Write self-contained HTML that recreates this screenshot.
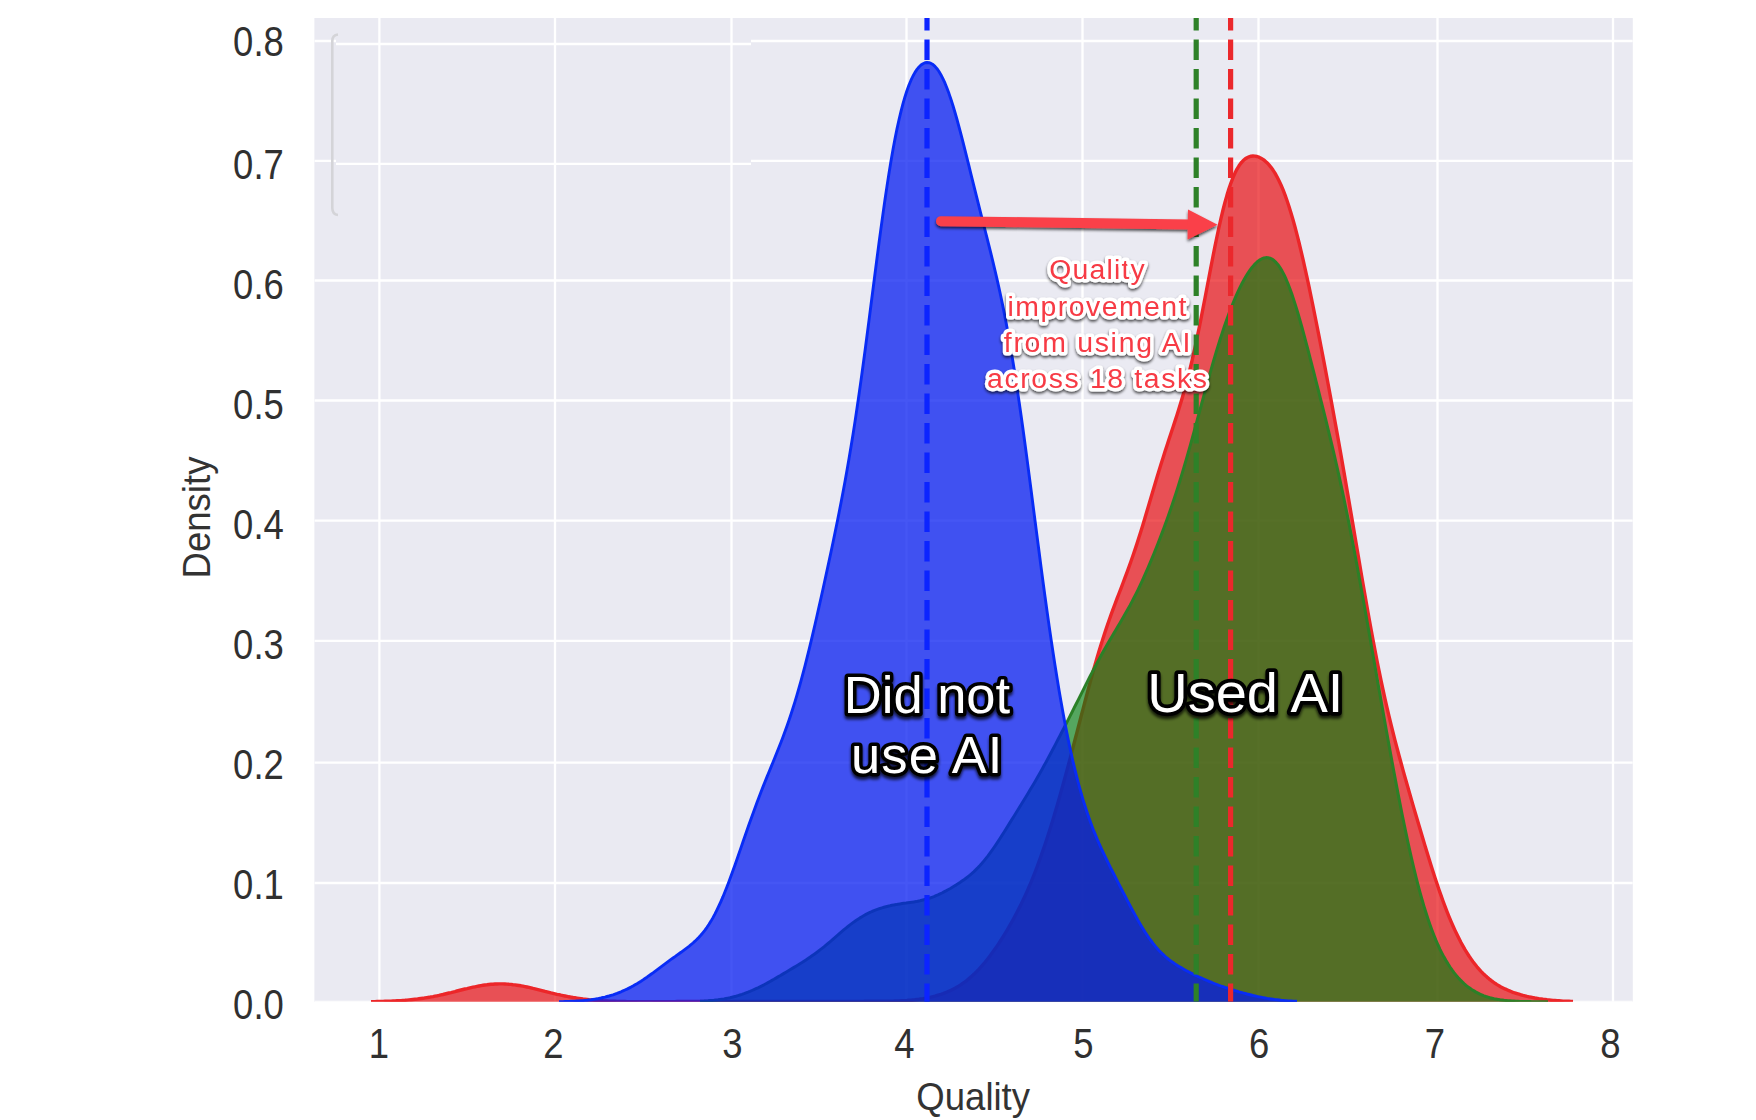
<!DOCTYPE html>
<html><head><meta charset="utf-8"><title>Quality density</title>
<style>
html,body{margin:0;padding:0;background:#fff;}
body{width:1756px;height:1120px;overflow:hidden;}
svg{display:block;}
text{font-family:"Liberation Sans",Arial,Helvetica,sans-serif;}
.tick{font-size:42.5px;fill:#303030;}
.axl{font-size:39.5px;fill:#333;}
.big{font-size:52.5px;fill:#fff;stroke:#000;stroke-width:7px;stroke-linejoin:round;paint-order:stroke fill;}
.ann{font-size:28.4px;fill:#F73A44;stroke:#fff;stroke-width:6.8px;stroke-linejoin:round;paint-order:stroke fill;}
</style></head><body>
<svg width="1756" height="1120" viewBox="0 0 1756 1120">
<defs>
<filter id="sh" x="-20%" y="-20%" width="140%" height="160%"><feGaussianBlur in="SourceAlpha" stdDeviation="1.8"/><feOffset dx="0" dy="2.5" result="o"/><feComponentTransfer><feFuncA type="linear" slope="0.75"/></feComponentTransfer><feMerge><feMergeNode/><feMergeNode in="SourceGraphic"/></feMerge></filter>
<filter id="sh2" x="-20%" y="-30%" width="140%" height="180%"><feGaussianBlur in="SourceAlpha" stdDeviation="1.7"/><feOffset dx="0" dy="2.2" result="o"/><feComponentTransfer><feFuncA type="linear" slope="0.7"/></feComponentTransfer><feMerge><feMergeNode/><feMergeNode in="SourceGraphic"/></feMerge></filter>
<clipPath id="cp"><rect x="314.4" y="18.0" width="1318.4" height="983.8"/></clipPath>
</defs>
<rect x="0" y="0" width="1756" height="1120" fill="#fff"/>
<rect x="314.4" y="18.0" width="1318.4" height="983.8" fill="#EAEAF2"/>
<g clip-path="url(#cp)">
<line x1="379.4" y1="18.0" x2="379.4" y2="1001.8" stroke="#fff" stroke-width="2.3"/>
<line x1="555.0" y1="18.0" x2="555.0" y2="1001.8" stroke="#fff" stroke-width="2.3"/>
<line x1="731.5" y1="18.0" x2="731.5" y2="1001.8" stroke="#fff" stroke-width="2.3"/>
<line x1="906.5" y1="18.0" x2="906.5" y2="1001.8" stroke="#fff" stroke-width="2.3"/>
<line x1="1082.5" y1="18.0" x2="1082.5" y2="1001.8" stroke="#fff" stroke-width="2.3"/>
<line x1="1258.5" y1="18.0" x2="1258.5" y2="1001.8" stroke="#fff" stroke-width="2.3"/>
<line x1="1437.5" y1="18.0" x2="1437.5" y2="1001.8" stroke="#fff" stroke-width="2.3"/>
<line x1="1613.0" y1="18.0" x2="1613.0" y2="1001.8" stroke="#fff" stroke-width="2.3"/>
<line x1="314.4" y1="41.0" x2="336" y2="41.0" stroke="#fff" stroke-width="2.3"/>
<line x1="336" y1="44.0" x2="751" y2="44.0" stroke="#fff" stroke-width="2.3"/>
<line x1="751" y1="41.0" x2="1632.8" y2="41.0" stroke="#fff" stroke-width="2.3"/>
<line x1="314.4" y1="160.9" x2="336" y2="160.9" stroke="#fff" stroke-width="2.3"/>
<line x1="336" y1="163.9" x2="751" y2="163.9" stroke="#fff" stroke-width="2.3"/>
<line x1="751" y1="160.9" x2="1632.8" y2="160.9" stroke="#fff" stroke-width="2.3"/>
<line x1="314.4" y1="280.5" x2="1632.8" y2="280.5" stroke="#fff" stroke-width="2.3"/>
<line x1="314.4" y1="400.5" x2="1632.8" y2="400.5" stroke="#fff" stroke-width="2.3"/>
<line x1="314.4" y1="520.7" x2="1632.8" y2="520.7" stroke="#fff" stroke-width="2.3"/>
<line x1="314.4" y1="640.8" x2="1632.8" y2="640.8" stroke="#fff" stroke-width="2.3"/>
<line x1="314.4" y1="762.6" x2="1632.8" y2="762.6" stroke="#fff" stroke-width="2.3"/>
<line x1="314.4" y1="883.0" x2="1632.8" y2="883.0" stroke="#fff" stroke-width="2.3"/>
<line x1="314.4" y1="1001.8" x2="1632.8" y2="1001.8" stroke="#fff" stroke-width="2.3"/>
<path d="M338,34.5 Q332.3,35 332.3,41 L332.3,208 Q332.3,214.5 338,215" fill="none" stroke="#d4d4d8" stroke-width="2.6"/>
<path d="M371.0,1001.6 L373.0,1001.6 L375.0,1001.6 L377.0,1001.5 L379.0,1001.5 L381.0,1001.4 L383.0,1001.4 L385.0,1001.3 L387.0,1001.3 L389.0,1001.2 L391.0,1001.1 L393.0,1001.0 L395.0,1000.9 L397.0,1000.8 L399.0,1000.7 L401.0,1000.6 L403.0,1000.4 L405.0,1000.3 L407.0,1000.1 L409.0,999.9 L411.0,999.7 L413.0,999.5 L415.0,999.3 L417.0,999.1 L419.0,998.8 L421.0,998.5 L423.0,998.3 L425.0,997.9 L427.0,997.6 L429.0,997.3 L431.0,996.9 L433.0,996.6 L435.0,996.2 L437.0,995.8 L439.0,995.4 L441.0,994.9 L443.0,994.5 L445.0,994.0 L447.0,993.5 L449.0,993.0 L451.0,992.6 L453.0,992.1 L455.0,991.6 L457.0,991.0 L459.0,990.5 L461.0,990.0 L463.0,989.5 L465.0,989.0 L467.0,988.6 L469.0,988.1 L471.0,987.6 L473.0,987.2 L475.0,986.8 L477.0,986.4 L479.0,986.0 L481.0,985.6 L483.0,985.3 L485.0,985.0 L487.0,984.8 L489.0,984.5 L491.0,984.3 L493.0,984.2 L495.0,984.0 L497.0,984.0 L499.0,983.9 L501.0,983.9 L503.0,983.9 L505.0,984.0 L507.0,984.1 L509.0,984.3 L511.0,984.4 L513.0,984.7 L515.0,984.9 L517.0,985.2 L519.0,985.5 L521.0,985.8 L523.0,986.2 L525.0,986.6 L527.0,987.0 L529.0,987.4 L531.0,987.9 L533.0,988.4 L535.0,988.8 L537.0,989.3 L539.0,989.8 L541.0,990.3 L543.0,990.8 L545.0,991.4 L547.0,991.9 L549.0,992.4 L551.0,992.9 L553.0,993.3 L555.0,993.8 L557.0,994.3 L559.0,994.7 L561.0,995.2 L563.0,995.6 L565.0,996.0 L567.0,996.4 L569.0,996.8 L571.0,997.1 L573.0,997.5 L575.0,997.8 L577.0,998.1 L579.0,998.4 L581.0,998.7 L583.0,999.0 L585.0,999.2 L587.0,999.4 L589.0,999.7 L591.0,999.9 L593.0,1000.0 L595.0,1000.2 L597.0,1000.4 L599.0,1000.5 L601.0,1000.6 L603.0,1000.8 L605.0,1000.9 L607.0,1001.0 L609.0,1001.1 L611.0,1001.2 L613.0,1001.2 L615.0,1001.3 L617.0,1001.4 L619.0,1001.4 L621.0,1001.5 L623.0,1001.5 L625.0,1001.5 L627.0,1001.6 L629.0,1001.6 L631.0,1001.6 L633.0,1001.6 L635.0,1001.6 L637.0,1001.6 L639.0,1001.7 L641.0,1001.7 L643.0,1001.7 L645.0,1001.7 L647.0,1001.7 L649.0,1001.7 L651.0,1001.7 L653.0,1001.6 L655.0,1001.6 L657.0,1001.6 L659.0,1001.6 L661.0,1001.6 L663.0,1001.6 L665.0,1001.6 L667.0,1001.6 L669.0,1001.6 L671.0,1001.6 L673.0,1001.6 L675.0,1001.6 L677.0,1001.5 L679.0,1001.5 L681.0,1001.5 L683.0,1001.5 L685.0,1001.5 L687.0,1001.5 L689.0,1001.5 L691.0,1001.5 L693.0,1001.5 L695.0,1001.5 L697.0,1001.5 L699.0,1001.5 L701.0,1001.5 L703.0,1001.5 L705.0,1001.5 L707.0,1001.5 L709.0,1001.5 L711.0,1001.5 L713.0,1001.5 L715.0,1001.5 L717.0,1001.5 L719.0,1001.5 L721.0,1001.5 L723.0,1001.5 L725.0,1001.5 L727.0,1001.5 L729.0,1001.5 L731.0,1001.5 L733.0,1001.5 L735.0,1001.5 L737.0,1001.5 L739.0,1001.5 L741.0,1001.5 L743.0,1001.5 L745.0,1001.5 L747.0,1001.5 L749.0,1001.5 L751.0,1001.5 L753.0,1001.5 L755.0,1001.5 L757.0,1001.5 L759.0,1001.5 L761.0,1001.5 L763.0,1001.5 L765.0,1001.5 L767.0,1001.5 L769.0,1001.5 L771.0,1001.5 L773.0,1001.5 L775.0,1001.5 L777.0,1001.5 L779.0,1001.5 L781.0,1001.5 L783.0,1001.5 L785.0,1001.5 L787.0,1001.5 L789.0,1001.5 L791.0,1001.5 L793.0,1001.5 L795.0,1001.5 L797.0,1001.5 L799.0,1001.5 L801.0,1001.5 L803.0,1001.5 L805.0,1001.5 L807.0,1001.5 L809.0,1001.5 L811.0,1001.5 L813.0,1001.5 L815.0,1001.5 L817.0,1001.5 L819.0,1001.5 L821.0,1001.5 L823.0,1001.5 L825.0,1001.5 L827.0,1001.5 L829.0,1001.5 L831.0,1001.5 L833.0,1001.5 L835.0,1001.5 L837.0,1001.5 L839.0,1001.5 L841.0,1001.5 L843.0,1001.5 L845.0,1001.4 L847.0,1001.4 L849.0,1001.4 L851.0,1001.4 L853.0,1001.4 L855.0,1001.4 L857.0,1001.4 L859.0,1001.4 L861.0,1001.4 L863.0,1001.4 L865.0,1001.3 L867.0,1001.3 L869.0,1001.3 L871.0,1001.3 L873.0,1001.3 L875.0,1001.3 L877.0,1001.3 L879.0,1001.3 L881.0,1001.2 L883.0,1001.2 L885.0,1001.2 L887.0,1001.2 L889.0,1001.1 L891.0,1001.1 L893.0,1001.1 L895.0,1001.0 L897.0,1001.0 L899.0,1000.9 L901.0,1000.8 L903.0,1000.7 L905.0,1000.6 L907.0,1000.5 L909.0,1000.3 L911.0,1000.2 L913.0,1000.0 L915.0,999.8 L917.0,999.5 L919.0,999.3 L921.0,999.0 L923.0,998.7 L925.0,998.3 L927.0,998.0 L929.0,997.6 L931.0,997.1 L933.0,996.6 L935.0,996.1 L937.0,995.5 L939.0,994.9 L941.0,994.3 L943.0,993.6 L945.0,992.8 L947.0,992.0 L949.0,991.2 L951.0,990.2 L953.0,989.2 L955.0,988.2 L957.0,987.1 L959.0,985.9 L961.0,984.6 L963.0,983.2 L965.0,981.8 L967.0,980.3 L969.0,978.6 L971.0,976.9 L973.0,975.1 L975.0,973.2 L977.0,971.2 L979.0,969.1 L981.0,966.9 L983.0,964.6 L985.0,962.3 L987.0,959.8 L989.0,957.2 L991.0,954.5 L993.0,951.8 L995.0,949.0 L997.0,946.1 L999.0,943.1 L1001.0,940.0 L1003.0,936.8 L1005.0,933.6 L1007.0,930.3 L1009.0,926.9 L1011.0,923.4 L1013.0,919.8 L1015.0,916.1 L1017.0,912.3 L1019.0,908.4 L1021.0,904.4 L1023.0,900.3 L1025.0,896.0 L1027.0,891.6 L1029.0,887.0 L1031.0,882.3 L1033.0,877.4 L1035.0,872.3 L1037.0,867.1 L1039.0,861.7 L1041.0,856.2 L1043.0,850.4 L1045.0,844.6 L1047.0,838.5 L1049.0,832.3 L1051.0,825.9 L1053.0,819.4 L1055.0,812.7 L1057.0,805.9 L1059.0,799.0 L1061.0,791.9 L1063.0,784.7 L1065.0,777.4 L1067.0,770.1 L1069.0,762.6 L1071.0,755.1 L1073.0,747.5 L1075.0,739.8 L1077.0,732.2 L1079.0,724.5 L1081.0,716.8 L1083.0,709.1 L1085.0,701.5 L1087.0,694.0 L1089.0,686.5 L1091.0,679.2 L1093.0,672.0 L1095.0,664.9 L1097.0,658.0 L1099.0,651.3 L1101.0,644.8 L1103.0,638.4 L1105.0,632.3 L1107.0,626.3 L1109.0,620.5 L1111.0,614.9 L1113.0,609.4 L1115.0,604.0 L1117.0,598.7 L1119.0,593.5 L1121.0,588.3 L1123.0,583.0 L1125.0,577.7 L1127.0,572.4 L1129.0,566.9 L1131.0,561.3 L1133.0,555.5 L1135.0,549.6 L1137.0,543.6 L1139.0,537.3 L1141.0,530.9 L1143.0,524.4 L1145.0,517.8 L1147.0,511.1 L1149.0,504.3 L1151.0,497.5 L1153.0,490.7 L1155.0,484.0 L1157.0,477.3 L1159.0,470.7 L1161.0,464.2 L1163.0,457.9 L1165.0,451.6 L1167.0,445.4 L1169.0,439.3 L1171.0,433.2 L1173.0,427.2 L1175.0,421.1 L1177.0,414.9 L1179.0,408.6 L1181.0,402.1 L1183.0,395.3 L1185.0,388.3 L1187.0,380.9 L1189.0,373.2 L1191.0,365.0 L1193.0,356.5 L1195.0,347.6 L1197.0,338.2 L1199.0,328.6 L1201.0,318.6 L1203.0,308.4 L1205.0,298.0 L1207.0,287.5 L1209.0,277.0 L1211.0,266.6 L1213.0,256.3 L1215.0,246.2 L1217.0,236.5 L1219.0,227.1 L1221.0,218.3 L1223.0,210.0 L1225.0,202.2 L1227.0,195.1 L1229.0,188.6 L1231.0,182.8 L1233.0,177.6 L1235.0,173.1 L1237.0,169.1 L1239.0,165.8 L1241.0,163.0 L1243.0,160.8 L1245.0,159.0 L1247.0,157.7 L1249.0,156.8 L1251.0,156.2 L1253.0,156.0 L1255.0,156.1 L1257.0,156.5 L1259.0,157.2 L1261.0,158.2 L1263.0,159.4 L1265.0,160.9 L1267.0,162.7 L1269.0,164.9 L1271.0,167.3 L1273.0,170.1 L1275.0,173.2 L1277.0,176.8 L1279.0,180.7 L1281.0,185.0 L1283.0,189.7 L1285.0,194.9 L1287.0,200.5 L1289.0,206.5 L1291.0,212.9 L1293.0,219.8 L1295.0,227.0 L1297.0,234.6 L1299.0,242.5 L1301.0,250.8 L1303.0,259.4 L1305.0,268.3 L1307.0,277.4 L1309.0,286.7 L1311.0,296.3 L1313.0,306.0 L1315.0,316.0 L1317.0,326.0 L1319.0,336.2 L1321.0,346.5 L1323.0,356.9 L1325.0,367.4 L1327.0,378.0 L1329.0,388.8 L1331.0,399.6 L1333.0,410.5 L1335.0,421.5 L1337.0,432.6 L1339.0,443.8 L1341.0,455.1 L1343.0,466.6 L1345.0,478.1 L1347.0,489.7 L1349.0,501.4 L1351.0,513.1 L1353.0,524.9 L1355.0,536.8 L1357.0,548.6 L1359.0,560.4 L1361.0,572.2 L1363.0,583.9 L1365.0,595.4 L1367.0,606.8 L1369.0,618.1 L1371.0,629.1 L1373.0,639.9 L1375.0,650.4 L1377.0,660.7 L1379.0,670.7 L1381.0,680.3 L1383.0,689.7 L1385.0,698.8 L1387.0,707.6 L1389.0,716.2 L1391.0,724.5 L1393.0,732.5 L1395.0,740.4 L1397.0,748.0 L1399.0,755.5 L1401.0,762.8 L1403.0,770.1 L1405.0,777.2 L1407.0,784.2 L1409.0,791.2 L1411.0,798.2 L1413.0,805.1 L1415.0,811.9 L1417.0,818.8 L1419.0,825.6 L1421.0,832.3 L1423.0,839.1 L1425.0,845.7 L1427.0,852.3 L1429.0,858.8 L1431.0,865.3 L1433.0,871.6 L1435.0,877.7 L1437.0,883.8 L1439.0,889.7 L1441.0,895.4 L1443.0,901.0 L1445.0,906.4 L1447.0,911.6 L1449.0,916.6 L1451.0,921.4 L1453.0,926.0 L1455.0,930.4 L1457.0,934.6 L1459.0,938.6 L1461.0,942.5 L1463.0,946.1 L1465.0,949.6 L1467.0,952.8 L1469.0,956.0 L1471.0,958.9 L1473.0,961.7 L1475.0,964.3 L1477.0,966.8 L1479.0,969.1 L1481.0,971.3 L1483.0,973.4 L1485.0,975.3 L1487.0,977.1 L1489.0,978.8 L1491.0,980.4 L1493.0,981.9 L1495.0,983.3 L1497.0,984.6 L1499.0,985.8 L1501.0,986.9 L1503.0,987.9 L1505.0,988.9 L1507.0,989.8 L1509.0,990.7 L1511.0,991.5 L1513.0,992.3 L1515.0,993.0 L1517.0,993.6 L1519.0,994.2 L1521.0,994.8 L1523.0,995.4 L1525.0,995.9 L1527.0,996.4 L1529.0,996.8 L1531.0,997.2 L1533.0,997.6 L1535.0,998.0 L1537.0,998.3 L1539.0,998.7 L1541.0,999.0 L1543.0,999.3 L1545.0,999.5 L1547.0,999.8 L1549.0,1000.0 L1551.0,1000.2 L1553.0,1000.4 L1555.0,1000.5 L1557.0,1000.7 L1559.0,1000.8 L1561.0,1000.9 L1563.0,1001.1 L1565.0,1001.2 L1567.0,1001.2 L1569.0,1001.3 L1571.0,1001.4 L1573.0,1001.5 L1573.0,1003.8 L371.0,1003.8 Z" fill="#E70003" fill-opacity="0.66" stroke="none"/>
<path d="M371.0,1001.6 L373.0,1001.6 L375.0,1001.6 L377.0,1001.5 L379.0,1001.5 L381.0,1001.4 L383.0,1001.4 L385.0,1001.3 L387.0,1001.3 L389.0,1001.2 L391.0,1001.1 L393.0,1001.0 L395.0,1000.9 L397.0,1000.8 L399.0,1000.7 L401.0,1000.6 L403.0,1000.4 L405.0,1000.3 L407.0,1000.1 L409.0,999.9 L411.0,999.7 L413.0,999.5 L415.0,999.3 L417.0,999.1 L419.0,998.8 L421.0,998.5 L423.0,998.3 L425.0,997.9 L427.0,997.6 L429.0,997.3 L431.0,996.9 L433.0,996.6 L435.0,996.2 L437.0,995.8 L439.0,995.4 L441.0,994.9 L443.0,994.5 L445.0,994.0 L447.0,993.5 L449.0,993.0 L451.0,992.6 L453.0,992.1 L455.0,991.6 L457.0,991.0 L459.0,990.5 L461.0,990.0 L463.0,989.5 L465.0,989.0 L467.0,988.6 L469.0,988.1 L471.0,987.6 L473.0,987.2 L475.0,986.8 L477.0,986.4 L479.0,986.0 L481.0,985.6 L483.0,985.3 L485.0,985.0 L487.0,984.8 L489.0,984.5 L491.0,984.3 L493.0,984.2 L495.0,984.0 L497.0,984.0 L499.0,983.9 L501.0,983.9 L503.0,983.9 L505.0,984.0 L507.0,984.1 L509.0,984.3 L511.0,984.4 L513.0,984.7 L515.0,984.9 L517.0,985.2 L519.0,985.5 L521.0,985.8 L523.0,986.2 L525.0,986.6 L527.0,987.0 L529.0,987.4 L531.0,987.9 L533.0,988.4 L535.0,988.8 L537.0,989.3 L539.0,989.8 L541.0,990.3 L543.0,990.8 L545.0,991.4 L547.0,991.9 L549.0,992.4 L551.0,992.9 L553.0,993.3 L555.0,993.8 L557.0,994.3 L559.0,994.7 L561.0,995.2 L563.0,995.6 L565.0,996.0 L567.0,996.4 L569.0,996.8 L571.0,997.1 L573.0,997.5 L575.0,997.8 L577.0,998.1 L579.0,998.4 L581.0,998.7 L583.0,999.0 L585.0,999.2 L587.0,999.4 L589.0,999.7 L591.0,999.9 L593.0,1000.0 L595.0,1000.2 L597.0,1000.4 L599.0,1000.5 L601.0,1000.6 L603.0,1000.8 L605.0,1000.9 L607.0,1001.0 L609.0,1001.1 L611.0,1001.2 L613.0,1001.2 L615.0,1001.3 L617.0,1001.4 L619.0,1001.4 L621.0,1001.5 L623.0,1001.5 L625.0,1001.5 L627.0,1001.6 L629.0,1001.6 L631.0,1001.6 L633.0,1001.6 L635.0,1001.6 L637.0,1001.6 L639.0,1001.7 L641.0,1001.7 L643.0,1001.7 L645.0,1001.7 L647.0,1001.7 L649.0,1001.7 L651.0,1001.7 L653.0,1001.6 L655.0,1001.6 L657.0,1001.6 L659.0,1001.6 L661.0,1001.6 L663.0,1001.6 L665.0,1001.6 L667.0,1001.6 L669.0,1001.6 L671.0,1001.6 L673.0,1001.6 L675.0,1001.6 L677.0,1001.5 L679.0,1001.5 L681.0,1001.5 L683.0,1001.5 L685.0,1001.5 L687.0,1001.5 L689.0,1001.5 L691.0,1001.5 L693.0,1001.5 L695.0,1001.5 L697.0,1001.5 L699.0,1001.5 L701.0,1001.5 L703.0,1001.5 L705.0,1001.5 L707.0,1001.5 L709.0,1001.5 L711.0,1001.5 L713.0,1001.5 L715.0,1001.5 L717.0,1001.5 L719.0,1001.5 L721.0,1001.5 L723.0,1001.5 L725.0,1001.5 L727.0,1001.5 L729.0,1001.5 L731.0,1001.5 L733.0,1001.5 L735.0,1001.5 L737.0,1001.5 L739.0,1001.5 L741.0,1001.5 L743.0,1001.5 L745.0,1001.5 L747.0,1001.5 L749.0,1001.5 L751.0,1001.5 L753.0,1001.5 L755.0,1001.5 L757.0,1001.5 L759.0,1001.5 L761.0,1001.5 L763.0,1001.5 L765.0,1001.5 L767.0,1001.5 L769.0,1001.5 L771.0,1001.5 L773.0,1001.5 L775.0,1001.5 L777.0,1001.5 L779.0,1001.5 L781.0,1001.5 L783.0,1001.5 L785.0,1001.5 L787.0,1001.5 L789.0,1001.5 L791.0,1001.5 L793.0,1001.5 L795.0,1001.5 L797.0,1001.5 L799.0,1001.5 L801.0,1001.5 L803.0,1001.5 L805.0,1001.5 L807.0,1001.5 L809.0,1001.5 L811.0,1001.5 L813.0,1001.5 L815.0,1001.5 L817.0,1001.5 L819.0,1001.5 L821.0,1001.5 L823.0,1001.5 L825.0,1001.5 L827.0,1001.5 L829.0,1001.5 L831.0,1001.5 L833.0,1001.5 L835.0,1001.5 L837.0,1001.5 L839.0,1001.5 L841.0,1001.5 L843.0,1001.5 L845.0,1001.4 L847.0,1001.4 L849.0,1001.4 L851.0,1001.4 L853.0,1001.4 L855.0,1001.4 L857.0,1001.4 L859.0,1001.4 L861.0,1001.4 L863.0,1001.4 L865.0,1001.3 L867.0,1001.3 L869.0,1001.3 L871.0,1001.3 L873.0,1001.3 L875.0,1001.3 L877.0,1001.3 L879.0,1001.3 L881.0,1001.2 L883.0,1001.2 L885.0,1001.2 L887.0,1001.2 L889.0,1001.1 L891.0,1001.1 L893.0,1001.1 L895.0,1001.0 L897.0,1001.0 L899.0,1000.9 L901.0,1000.8 L903.0,1000.7 L905.0,1000.6 L907.0,1000.5 L909.0,1000.3 L911.0,1000.2 L913.0,1000.0 L915.0,999.8 L917.0,999.5 L919.0,999.3 L921.0,999.0 L923.0,998.7 L925.0,998.3 L927.0,998.0 L929.0,997.6 L931.0,997.1 L933.0,996.6 L935.0,996.1 L937.0,995.5 L939.0,994.9 L941.0,994.3 L943.0,993.6 L945.0,992.8 L947.0,992.0 L949.0,991.2 L951.0,990.2 L953.0,989.2 L955.0,988.2 L957.0,987.1 L959.0,985.9 L961.0,984.6 L963.0,983.2 L965.0,981.8 L967.0,980.3 L969.0,978.6 L971.0,976.9 L973.0,975.1 L975.0,973.2 L977.0,971.2 L979.0,969.1 L981.0,966.9 L983.0,964.6 L985.0,962.3 L987.0,959.8 L989.0,957.2 L991.0,954.5 L993.0,951.8 L995.0,949.0 L997.0,946.1 L999.0,943.1 L1001.0,940.0 L1003.0,936.8 L1005.0,933.6 L1007.0,930.3 L1009.0,926.9 L1011.0,923.4 L1013.0,919.8 L1015.0,916.1 L1017.0,912.3 L1019.0,908.4 L1021.0,904.4 L1023.0,900.3 L1025.0,896.0 L1027.0,891.6 L1029.0,887.0 L1031.0,882.3 L1033.0,877.4 L1035.0,872.3 L1037.0,867.1 L1039.0,861.7 L1041.0,856.2 L1043.0,850.4 L1045.0,844.6 L1047.0,838.5 L1049.0,832.3 L1051.0,825.9 L1053.0,819.4 L1055.0,812.7 L1057.0,805.9 L1059.0,799.0 L1061.0,791.9 L1063.0,784.7 L1065.0,777.4 L1067.0,770.1 L1069.0,762.6 L1071.0,755.1 L1073.0,747.5 L1075.0,739.8 L1077.0,732.2 L1079.0,724.5 L1081.0,716.8 L1083.0,709.1 L1085.0,701.5 L1087.0,694.0 L1089.0,686.5 L1091.0,679.2 L1093.0,672.0 L1095.0,664.9 L1097.0,658.0 L1099.0,651.3 L1101.0,644.8 L1103.0,638.4 L1105.0,632.3 L1107.0,626.3 L1109.0,620.5 L1111.0,614.9 L1113.0,609.4 L1115.0,604.0 L1117.0,598.7 L1119.0,593.5 L1121.0,588.3 L1123.0,583.0 L1125.0,577.7 L1127.0,572.4 L1129.0,566.9 L1131.0,561.3 L1133.0,555.5 L1135.0,549.6 L1137.0,543.6 L1139.0,537.3 L1141.0,530.9 L1143.0,524.4 L1145.0,517.8 L1147.0,511.1 L1149.0,504.3 L1151.0,497.5 L1153.0,490.7 L1155.0,484.0 L1157.0,477.3 L1159.0,470.7 L1161.0,464.2 L1163.0,457.9 L1165.0,451.6 L1167.0,445.4 L1169.0,439.3 L1171.0,433.2 L1173.0,427.2 L1175.0,421.1 L1177.0,414.9 L1179.0,408.6 L1181.0,402.1 L1183.0,395.3 L1185.0,388.3 L1187.0,380.9 L1189.0,373.2 L1191.0,365.0 L1193.0,356.5 L1195.0,347.6 L1197.0,338.2 L1199.0,328.6 L1201.0,318.6 L1203.0,308.4 L1205.0,298.0 L1207.0,287.5 L1209.0,277.0 L1211.0,266.6 L1213.0,256.3 L1215.0,246.2 L1217.0,236.5 L1219.0,227.1 L1221.0,218.3 L1223.0,210.0 L1225.0,202.2 L1227.0,195.1 L1229.0,188.6 L1231.0,182.8 L1233.0,177.6 L1235.0,173.1 L1237.0,169.1 L1239.0,165.8 L1241.0,163.0 L1243.0,160.8 L1245.0,159.0 L1247.0,157.7 L1249.0,156.8 L1251.0,156.2 L1253.0,156.0 L1255.0,156.1 L1257.0,156.5 L1259.0,157.2 L1261.0,158.2 L1263.0,159.4 L1265.0,160.9 L1267.0,162.7 L1269.0,164.9 L1271.0,167.3 L1273.0,170.1 L1275.0,173.2 L1277.0,176.8 L1279.0,180.7 L1281.0,185.0 L1283.0,189.7 L1285.0,194.9 L1287.0,200.5 L1289.0,206.5 L1291.0,212.9 L1293.0,219.8 L1295.0,227.0 L1297.0,234.6 L1299.0,242.5 L1301.0,250.8 L1303.0,259.4 L1305.0,268.3 L1307.0,277.4 L1309.0,286.7 L1311.0,296.3 L1313.0,306.0 L1315.0,316.0 L1317.0,326.0 L1319.0,336.2 L1321.0,346.5 L1323.0,356.9 L1325.0,367.4 L1327.0,378.0 L1329.0,388.8 L1331.0,399.6 L1333.0,410.5 L1335.0,421.5 L1337.0,432.6 L1339.0,443.8 L1341.0,455.1 L1343.0,466.6 L1345.0,478.1 L1347.0,489.7 L1349.0,501.4 L1351.0,513.1 L1353.0,524.9 L1355.0,536.8 L1357.0,548.6 L1359.0,560.4 L1361.0,572.2 L1363.0,583.9 L1365.0,595.4 L1367.0,606.8 L1369.0,618.1 L1371.0,629.1 L1373.0,639.9 L1375.0,650.4 L1377.0,660.7 L1379.0,670.7 L1381.0,680.3 L1383.0,689.7 L1385.0,698.8 L1387.0,707.6 L1389.0,716.2 L1391.0,724.5 L1393.0,732.5 L1395.0,740.4 L1397.0,748.0 L1399.0,755.5 L1401.0,762.8 L1403.0,770.1 L1405.0,777.2 L1407.0,784.2 L1409.0,791.2 L1411.0,798.2 L1413.0,805.1 L1415.0,811.9 L1417.0,818.8 L1419.0,825.6 L1421.0,832.3 L1423.0,839.1 L1425.0,845.7 L1427.0,852.3 L1429.0,858.8 L1431.0,865.3 L1433.0,871.6 L1435.0,877.7 L1437.0,883.8 L1439.0,889.7 L1441.0,895.4 L1443.0,901.0 L1445.0,906.4 L1447.0,911.6 L1449.0,916.6 L1451.0,921.4 L1453.0,926.0 L1455.0,930.4 L1457.0,934.6 L1459.0,938.6 L1461.0,942.5 L1463.0,946.1 L1465.0,949.6 L1467.0,952.8 L1469.0,956.0 L1471.0,958.9 L1473.0,961.7 L1475.0,964.3 L1477.0,966.8 L1479.0,969.1 L1481.0,971.3 L1483.0,973.4 L1485.0,975.3 L1487.0,977.1 L1489.0,978.8 L1491.0,980.4 L1493.0,981.9 L1495.0,983.3 L1497.0,984.6 L1499.0,985.8 L1501.0,986.9 L1503.0,987.9 L1505.0,988.9 L1507.0,989.8 L1509.0,990.7 L1511.0,991.5 L1513.0,992.3 L1515.0,993.0 L1517.0,993.6 L1519.0,994.2 L1521.0,994.8 L1523.0,995.4 L1525.0,995.9 L1527.0,996.4 L1529.0,996.8 L1531.0,997.2 L1533.0,997.6 L1535.0,998.0 L1537.0,998.3 L1539.0,998.7 L1541.0,999.0 L1543.0,999.3 L1545.0,999.5 L1547.0,999.8 L1549.0,1000.0 L1551.0,1000.2 L1553.0,1000.4 L1555.0,1000.5 L1557.0,1000.7 L1559.0,1000.8 L1561.0,1000.9 L1563.0,1001.1 L1565.0,1001.2 L1567.0,1001.2 L1569.0,1001.3 L1571.0,1001.4 L1573.0,1001.5" fill="none" stroke="#EC2629" stroke-width="3.4" stroke-linejoin="round"/>
<path d="M700.0,1001.3 L702.0,1001.2 L704.0,1001.1 L706.0,1000.9 L708.0,1000.8 L710.0,1000.6 L712.0,1000.5 L714.0,1000.3 L716.0,1000.0 L718.0,999.8 L720.0,999.5 L722.0,999.2 L724.0,998.9 L726.0,998.5 L728.0,998.1 L730.0,997.7 L732.0,997.2 L734.0,996.7 L736.0,996.2 L738.0,995.6 L740.0,995.0 L742.0,994.4 L744.0,993.7 L746.0,992.9 L748.0,992.2 L750.0,991.4 L752.0,990.5 L754.0,989.6 L756.0,988.7 L758.0,987.8 L760.0,986.8 L762.0,985.8 L764.0,984.8 L766.0,983.7 L768.0,982.6 L770.0,981.5 L772.0,980.4 L774.0,979.3 L776.0,978.1 L778.0,976.9 L780.0,975.8 L782.0,974.6 L784.0,973.4 L786.0,972.2 L788.0,971.0 L790.0,969.8 L792.0,968.6 L794.0,967.4 L796.0,966.2 L798.0,965.0 L800.0,963.7 L802.0,962.5 L804.0,961.2 L806.0,959.9 L808.0,958.6 L810.0,957.2 L812.0,955.8 L814.0,954.4 L816.0,953.0 L818.0,951.5 L820.0,949.9 L822.0,948.4 L824.0,946.8 L826.0,945.1 L828.0,943.5 L830.0,941.8 L832.0,940.1 L834.0,938.3 L836.0,936.6 L838.0,934.9 L840.0,933.1 L842.0,931.4 L844.0,929.7 L846.0,928.1 L848.0,926.5 L850.0,924.9 L852.0,923.4 L854.0,921.9 L856.0,920.5 L858.0,919.2 L860.0,917.9 L862.0,916.7 L864.0,915.5 L866.0,914.4 L868.0,913.4 L870.0,912.4 L872.0,911.5 L874.0,910.7 L876.0,909.9 L878.0,909.2 L880.0,908.5 L882.0,907.9 L884.0,907.3 L886.0,906.7 L888.0,906.2 L890.0,905.8 L892.0,905.3 L894.0,904.9 L896.0,904.6 L898.0,904.2 L900.0,903.9 L902.0,903.6 L904.0,903.3 L906.0,903.1 L908.0,902.8 L910.0,902.5 L912.0,902.2 L914.0,901.9 L916.0,901.6 L918.0,901.2 L920.0,900.8 L922.0,900.3 L924.0,899.8 L926.0,899.3 L928.0,898.7 L930.0,898.0 L932.0,897.3 L934.0,896.6 L936.0,895.7 L938.0,894.9 L940.0,893.9 L942.0,893.0 L944.0,891.9 L946.0,890.9 L948.0,889.8 L950.0,888.7 L952.0,887.5 L954.0,886.3 L956.0,885.1 L958.0,883.8 L960.0,882.5 L962.0,881.1 L964.0,879.7 L966.0,878.2 L968.0,876.7 L970.0,875.1 L972.0,873.4 L974.0,871.6 L976.0,869.6 L978.0,867.6 L980.0,865.5 L982.0,863.3 L984.0,860.9 L986.0,858.4 L988.0,855.9 L990.0,853.2 L992.0,850.4 L994.0,847.5 L996.0,844.6 L998.0,841.6 L1000.0,838.5 L1002.0,835.4 L1004.0,832.2 L1006.0,829.1 L1008.0,825.9 L1010.0,822.6 L1012.0,819.4 L1014.0,816.2 L1016.0,813.0 L1018.0,809.8 L1020.0,806.5 L1022.0,803.3 L1024.0,800.0 L1026.0,796.8 L1028.0,793.5 L1030.0,790.1 L1032.0,786.8 L1034.0,783.4 L1036.0,780.0 L1038.0,776.5 L1040.0,773.0 L1042.0,769.4 L1044.0,765.8 L1046.0,762.2 L1048.0,758.5 L1050.0,754.7 L1052.0,751.0 L1054.0,747.2 L1056.0,743.4 L1058.0,739.5 L1060.0,735.7 L1062.0,731.8 L1064.0,727.9 L1066.0,724.0 L1068.0,720.1 L1070.0,716.1 L1072.0,712.2 L1074.0,708.2 L1076.0,704.3 L1078.0,700.3 L1080.0,696.3 L1082.0,692.3 L1084.0,688.4 L1086.0,684.4 L1088.0,680.5 L1090.0,676.5 L1092.0,672.6 L1094.0,668.8 L1096.0,665.0 L1098.0,661.2 L1100.0,657.5 L1102.0,653.8 L1104.0,650.2 L1106.0,646.7 L1108.0,643.2 L1110.0,639.8 L1112.0,636.4 L1114.0,633.0 L1116.0,629.7 L1118.0,626.3 L1120.0,622.9 L1122.0,619.5 L1124.0,616.1 L1126.0,612.6 L1128.0,609.0 L1130.0,605.4 L1132.0,601.6 L1134.0,597.8 L1136.0,593.8 L1138.0,589.8 L1140.0,585.6 L1142.0,581.3 L1144.0,576.9 L1146.0,572.4 L1148.0,567.8 L1150.0,563.2 L1152.0,558.4 L1154.0,553.5 L1156.0,548.5 L1158.0,543.5 L1160.0,538.3 L1162.0,533.1 L1164.0,527.7 L1166.0,522.3 L1168.0,516.7 L1170.0,511.0 L1172.0,505.2 L1174.0,499.2 L1176.0,493.1 L1178.0,486.9 L1180.0,480.5 L1182.0,473.9 L1184.0,467.2 L1186.0,460.4 L1188.0,453.5 L1190.0,446.4 L1192.0,439.2 L1194.0,431.9 L1196.0,424.6 L1198.0,417.2 L1200.0,409.8 L1202.0,402.5 L1204.0,395.1 L1206.0,387.8 L1208.0,380.5 L1210.0,373.4 L1212.0,366.4 L1214.0,359.5 L1216.0,352.7 L1218.0,346.2 L1220.0,339.8 L1222.0,333.6 L1224.0,327.5 L1226.0,321.7 L1228.0,316.2 L1230.0,310.8 L1232.0,305.7 L1234.0,300.8 L1236.0,296.1 L1238.0,291.6 L1240.0,287.4 L1242.0,283.5 L1244.0,279.8 L1246.0,276.3 L1248.0,273.1 L1250.0,270.2 L1252.0,267.5 L1254.0,265.1 L1256.0,263.0 L1258.0,261.2 L1260.0,259.8 L1262.0,258.7 L1264.0,258.0 L1266.0,257.6 L1268.0,257.7 L1270.0,258.2 L1272.0,259.1 L1274.0,260.5 L1276.0,262.4 L1278.0,264.7 L1280.0,267.6 L1282.0,270.9 L1284.0,274.7 L1286.0,279.0 L1288.0,283.8 L1290.0,289.0 L1292.0,294.6 L1294.0,300.6 L1296.0,306.9 L1298.0,313.5 L1300.0,320.4 L1302.0,327.5 L1304.0,334.8 L1306.0,342.3 L1308.0,349.9 L1310.0,357.6 L1312.0,365.3 L1314.0,373.1 L1316.0,381.0 L1318.0,388.9 L1320.0,396.8 L1322.0,404.7 L1324.0,412.7 L1326.0,420.7 L1328.0,428.8 L1330.0,437.1 L1332.0,445.4 L1334.0,453.9 L1336.0,462.5 L1338.0,471.4 L1340.0,480.4 L1342.0,489.6 L1344.0,499.0 L1346.0,508.7 L1348.0,518.5 L1350.0,528.6 L1352.0,538.9 L1354.0,549.3 L1356.0,560.0 L1358.0,570.8 L1360.0,581.7 L1362.0,592.8 L1364.0,603.9 L1366.0,615.2 L1368.0,626.5 L1370.0,637.8 L1372.0,649.2 L1374.0,660.6 L1376.0,672.0 L1378.0,683.4 L1380.0,694.8 L1382.0,706.1 L1384.0,717.3 L1386.0,728.5 L1388.0,739.6 L1390.0,750.6 L1392.0,761.5 L1394.0,772.3 L1396.0,782.9 L1398.0,793.4 L1400.0,803.6 L1402.0,813.7 L1404.0,823.5 L1406.0,833.1 L1408.0,842.5 L1410.0,851.6 L1412.0,860.4 L1414.0,868.8 L1416.0,877.0 L1418.0,884.8 L1420.0,892.3 L1422.0,899.5 L1424.0,906.3 L1426.0,912.8 L1428.0,919.0 L1430.0,924.8 L1432.0,930.3 L1434.0,935.5 L1436.0,940.4 L1438.0,945.0 L1440.0,949.3 L1442.0,953.3 L1444.0,957.1 L1446.0,960.6 L1448.0,963.9 L1450.0,967.0 L1452.0,969.9 L1454.0,972.6 L1456.0,975.1 L1458.0,977.5 L1460.0,979.6 L1462.0,981.6 L1464.0,983.5 L1466.0,985.3 L1468.0,986.9 L1470.0,988.3 L1472.0,989.7 L1474.0,990.9 L1476.0,992.1 L1478.0,993.1 L1480.0,994.1 L1482.0,995.0 L1484.0,995.8 L1486.0,996.5 L1488.0,997.1 L1490.0,997.7 L1492.0,998.2 L1494.0,998.7 L1496.0,999.1 L1498.0,999.4 L1500.0,999.8 L1502.0,1000.0 L1504.0,1000.3 L1506.0,1000.5 L1508.0,1000.7 L1510.0,1000.8 L1512.0,1001.0 L1514.0,1001.1 L1516.0,1001.2 L1518.0,1001.3 L1520.0,1001.4 L1522.0,1001.4 L1524.0,1001.5 L1526.0,1001.6 L1528.0,1001.6 L1530.0,1001.6 L1532.0,1001.7 L1534.0,1001.7 L1536.0,1001.7 L1538.0,1001.7 L1540.0,1001.7 L1542.0,1001.7 L1544.0,1001.8 L1546.0,1001.8 L1548.0,1001.8 L1548.0,1003.8 L700.0,1003.8 Z" fill="#007F0C" fill-opacity="0.64" stroke="none"/>
<path d="M700.0,1001.3 L702.0,1001.2 L704.0,1001.1 L706.0,1000.9 L708.0,1000.8 L710.0,1000.6 L712.0,1000.5 L714.0,1000.3 L716.0,1000.0 L718.0,999.8 L720.0,999.5 L722.0,999.2 L724.0,998.9 L726.0,998.5 L728.0,998.1 L730.0,997.7 L732.0,997.2 L734.0,996.7 L736.0,996.2 L738.0,995.6 L740.0,995.0 L742.0,994.4 L744.0,993.7 L746.0,992.9 L748.0,992.2 L750.0,991.4 L752.0,990.5 L754.0,989.6 L756.0,988.7 L758.0,987.8 L760.0,986.8 L762.0,985.8 L764.0,984.8 L766.0,983.7 L768.0,982.6 L770.0,981.5 L772.0,980.4 L774.0,979.3 L776.0,978.1 L778.0,976.9 L780.0,975.8 L782.0,974.6 L784.0,973.4 L786.0,972.2 L788.0,971.0 L790.0,969.8 L792.0,968.6 L794.0,967.4 L796.0,966.2 L798.0,965.0 L800.0,963.7 L802.0,962.5 L804.0,961.2 L806.0,959.9 L808.0,958.6 L810.0,957.2 L812.0,955.8 L814.0,954.4 L816.0,953.0 L818.0,951.5 L820.0,949.9 L822.0,948.4 L824.0,946.8 L826.0,945.1 L828.0,943.5 L830.0,941.8 L832.0,940.1 L834.0,938.3 L836.0,936.6 L838.0,934.9 L840.0,933.1 L842.0,931.4 L844.0,929.7 L846.0,928.1 L848.0,926.5 L850.0,924.9 L852.0,923.4 L854.0,921.9 L856.0,920.5 L858.0,919.2 L860.0,917.9 L862.0,916.7 L864.0,915.5 L866.0,914.4 L868.0,913.4 L870.0,912.4 L872.0,911.5 L874.0,910.7 L876.0,909.9 L878.0,909.2 L880.0,908.5 L882.0,907.9 L884.0,907.3 L886.0,906.7 L888.0,906.2 L890.0,905.8 L892.0,905.3 L894.0,904.9 L896.0,904.6 L898.0,904.2 L900.0,903.9 L902.0,903.6 L904.0,903.3 L906.0,903.1 L908.0,902.8 L910.0,902.5 L912.0,902.2 L914.0,901.9 L916.0,901.6 L918.0,901.2 L920.0,900.8 L922.0,900.3 L924.0,899.8 L926.0,899.3 L928.0,898.7 L930.0,898.0 L932.0,897.3 L934.0,896.6 L936.0,895.7 L938.0,894.9 L940.0,893.9 L942.0,893.0 L944.0,891.9 L946.0,890.9 L948.0,889.8 L950.0,888.7 L952.0,887.5 L954.0,886.3 L956.0,885.1 L958.0,883.8 L960.0,882.5 L962.0,881.1 L964.0,879.7 L966.0,878.2 L968.0,876.7 L970.0,875.1 L972.0,873.4 L974.0,871.6 L976.0,869.6 L978.0,867.6 L980.0,865.5 L982.0,863.3 L984.0,860.9 L986.0,858.4 L988.0,855.9 L990.0,853.2 L992.0,850.4 L994.0,847.5 L996.0,844.6 L998.0,841.6 L1000.0,838.5 L1002.0,835.4 L1004.0,832.2 L1006.0,829.1 L1008.0,825.9 L1010.0,822.6 L1012.0,819.4 L1014.0,816.2 L1016.0,813.0 L1018.0,809.8 L1020.0,806.5 L1022.0,803.3 L1024.0,800.0 L1026.0,796.8 L1028.0,793.5 L1030.0,790.1 L1032.0,786.8 L1034.0,783.4 L1036.0,780.0 L1038.0,776.5 L1040.0,773.0 L1042.0,769.4 L1044.0,765.8 L1046.0,762.2 L1048.0,758.5 L1050.0,754.7 L1052.0,751.0 L1054.0,747.2 L1056.0,743.4 L1058.0,739.5 L1060.0,735.7 L1062.0,731.8 L1064.0,727.9 L1066.0,724.0 L1068.0,720.1 L1070.0,716.1 L1072.0,712.2 L1074.0,708.2 L1076.0,704.3 L1078.0,700.3 L1080.0,696.3 L1082.0,692.3 L1084.0,688.4 L1086.0,684.4 L1088.0,680.5 L1090.0,676.5 L1092.0,672.6 L1094.0,668.8 L1096.0,665.0 L1098.0,661.2 L1100.0,657.5 L1102.0,653.8 L1104.0,650.2 L1106.0,646.7 L1108.0,643.2 L1110.0,639.8 L1112.0,636.4 L1114.0,633.0 L1116.0,629.7 L1118.0,626.3 L1120.0,622.9 L1122.0,619.5 L1124.0,616.1 L1126.0,612.6 L1128.0,609.0 L1130.0,605.4 L1132.0,601.6 L1134.0,597.8 L1136.0,593.8 L1138.0,589.8 L1140.0,585.6 L1142.0,581.3 L1144.0,576.9 L1146.0,572.4 L1148.0,567.8 L1150.0,563.2 L1152.0,558.4 L1154.0,553.5 L1156.0,548.5 L1158.0,543.5 L1160.0,538.3 L1162.0,533.1 L1164.0,527.7 L1166.0,522.3 L1168.0,516.7 L1170.0,511.0 L1172.0,505.2 L1174.0,499.2 L1176.0,493.1 L1178.0,486.9 L1180.0,480.5 L1182.0,473.9 L1184.0,467.2 L1186.0,460.4 L1188.0,453.5 L1190.0,446.4 L1192.0,439.2 L1194.0,431.9 L1196.0,424.6 L1198.0,417.2 L1200.0,409.8 L1202.0,402.5 L1204.0,395.1 L1206.0,387.8 L1208.0,380.5 L1210.0,373.4 L1212.0,366.4 L1214.0,359.5 L1216.0,352.7 L1218.0,346.2 L1220.0,339.8 L1222.0,333.6 L1224.0,327.5 L1226.0,321.7 L1228.0,316.2 L1230.0,310.8 L1232.0,305.7 L1234.0,300.8 L1236.0,296.1 L1238.0,291.6 L1240.0,287.4 L1242.0,283.5 L1244.0,279.8 L1246.0,276.3 L1248.0,273.1 L1250.0,270.2 L1252.0,267.5 L1254.0,265.1 L1256.0,263.0 L1258.0,261.2 L1260.0,259.8 L1262.0,258.7 L1264.0,258.0 L1266.0,257.6 L1268.0,257.7 L1270.0,258.2 L1272.0,259.1 L1274.0,260.5 L1276.0,262.4 L1278.0,264.7 L1280.0,267.6 L1282.0,270.9 L1284.0,274.7 L1286.0,279.0 L1288.0,283.8 L1290.0,289.0 L1292.0,294.6 L1294.0,300.6 L1296.0,306.9 L1298.0,313.5 L1300.0,320.4 L1302.0,327.5 L1304.0,334.8 L1306.0,342.3 L1308.0,349.9 L1310.0,357.6 L1312.0,365.3 L1314.0,373.1 L1316.0,381.0 L1318.0,388.9 L1320.0,396.8 L1322.0,404.7 L1324.0,412.7 L1326.0,420.7 L1328.0,428.8 L1330.0,437.1 L1332.0,445.4 L1334.0,453.9 L1336.0,462.5 L1338.0,471.4 L1340.0,480.4 L1342.0,489.6 L1344.0,499.0 L1346.0,508.7 L1348.0,518.5 L1350.0,528.6 L1352.0,538.9 L1354.0,549.3 L1356.0,560.0 L1358.0,570.8 L1360.0,581.7 L1362.0,592.8 L1364.0,603.9 L1366.0,615.2 L1368.0,626.5 L1370.0,637.8 L1372.0,649.2 L1374.0,660.6 L1376.0,672.0 L1378.0,683.4 L1380.0,694.8 L1382.0,706.1 L1384.0,717.3 L1386.0,728.5 L1388.0,739.6 L1390.0,750.6 L1392.0,761.5 L1394.0,772.3 L1396.0,782.9 L1398.0,793.4 L1400.0,803.6 L1402.0,813.7 L1404.0,823.5 L1406.0,833.1 L1408.0,842.5 L1410.0,851.6 L1412.0,860.4 L1414.0,868.8 L1416.0,877.0 L1418.0,884.8 L1420.0,892.3 L1422.0,899.5 L1424.0,906.3 L1426.0,912.8 L1428.0,919.0 L1430.0,924.8 L1432.0,930.3 L1434.0,935.5 L1436.0,940.4 L1438.0,945.0 L1440.0,949.3 L1442.0,953.3 L1444.0,957.1 L1446.0,960.6 L1448.0,963.9 L1450.0,967.0 L1452.0,969.9 L1454.0,972.6 L1456.0,975.1 L1458.0,977.5 L1460.0,979.6 L1462.0,981.6 L1464.0,983.5 L1466.0,985.3 L1468.0,986.9 L1470.0,988.3 L1472.0,989.7 L1474.0,990.9 L1476.0,992.1 L1478.0,993.1 L1480.0,994.1 L1482.0,995.0 L1484.0,995.8 L1486.0,996.5 L1488.0,997.1 L1490.0,997.7 L1492.0,998.2 L1494.0,998.7 L1496.0,999.1 L1498.0,999.4 L1500.0,999.8 L1502.0,1000.0 L1504.0,1000.3 L1506.0,1000.5 L1508.0,1000.7 L1510.0,1000.8 L1512.0,1001.0 L1514.0,1001.1 L1516.0,1001.2 L1518.0,1001.3 L1520.0,1001.4 L1522.0,1001.4 L1524.0,1001.5 L1526.0,1001.6 L1528.0,1001.6 L1530.0,1001.6 L1532.0,1001.7 L1534.0,1001.7 L1536.0,1001.7 L1538.0,1001.7 L1540.0,1001.7 L1542.0,1001.7 L1544.0,1001.8 L1546.0,1001.8 L1548.0,1001.8" fill="none" stroke="#2B8027" stroke-width="3.0" stroke-linejoin="round"/>
<path d="M559.0,1001.6 L561.0,1001.6 L563.0,1001.6 L565.0,1001.5 L567.0,1001.4 L569.0,1001.4 L571.0,1001.3 L573.0,1001.2 L575.0,1001.1 L577.0,1001.0 L579.0,1000.9 L581.0,1000.7 L583.0,1000.6 L585.0,1000.4 L587.0,1000.2 L589.0,999.9 L591.0,999.7 L593.0,999.4 L595.0,999.1 L597.0,998.8 L599.0,998.4 L601.0,998.0 L603.0,997.5 L605.0,997.1 L607.0,996.5 L609.0,996.0 L611.0,995.4 L613.0,994.8 L615.0,994.1 L617.0,993.4 L619.0,992.6 L621.0,991.8 L623.0,990.9 L625.0,990.0 L627.0,989.1 L629.0,988.1 L631.0,987.1 L633.0,986.0 L635.0,984.8 L637.0,983.7 L639.0,982.4 L641.0,981.2 L643.0,979.9 L645.0,978.5 L647.0,977.2 L649.0,975.7 L651.0,974.3 L653.0,972.9 L655.0,971.4 L657.0,969.9 L659.0,968.4 L661.0,966.9 L663.0,965.4 L665.0,963.9 L667.0,962.4 L669.0,960.9 L671.0,959.4 L673.0,958.0 L675.0,956.6 L677.0,955.1 L679.0,953.7 L681.0,952.3 L683.0,950.8 L685.0,949.3 L687.0,947.8 L689.0,946.3 L691.0,944.7 L693.0,943.0 L695.0,941.2 L697.0,939.3 L699.0,937.2 L701.0,935.0 L703.0,932.6 L705.0,930.1 L707.0,927.3 L709.0,924.3 L711.0,921.1 L713.0,917.6 L715.0,913.9 L717.0,909.9 L719.0,905.7 L721.0,901.3 L723.0,896.7 L725.0,891.8 L727.0,886.7 L729.0,881.5 L731.0,876.1 L733.0,870.6 L735.0,864.9 L737.0,859.2 L739.0,853.4 L741.0,847.6 L743.0,841.8 L745.0,836.0 L747.0,830.3 L749.0,824.6 L751.0,818.9 L753.0,813.4 L755.0,807.9 L757.0,802.5 L759.0,797.2 L761.0,792.0 L763.0,786.9 L765.0,781.9 L767.0,776.9 L769.0,772.0 L771.0,767.1 L773.0,762.2 L775.0,757.3 L777.0,752.3 L779.0,747.3 L781.0,742.2 L783.0,736.9 L785.0,731.5 L787.0,726.0 L789.0,720.2 L791.0,714.2 L793.0,708.0 L795.0,701.6 L797.0,694.9 L799.0,688.0 L801.0,680.8 L803.0,673.4 L805.0,665.8 L807.0,657.9 L809.0,649.8 L811.0,641.6 L813.0,633.1 L815.0,624.5 L817.0,615.8 L819.0,606.9 L821.0,598.0 L823.0,589.0 L825.0,579.8 L827.0,570.6 L829.0,561.4 L831.0,552.0 L833.0,542.5 L835.0,532.8 L837.0,523.0 L839.0,513.0 L841.0,502.8 L843.0,492.3 L845.0,481.5 L847.0,470.3 L849.0,458.8 L851.0,446.8 L853.0,434.4 L855.0,421.6 L857.0,408.3 L859.0,394.5 L861.0,380.4 L863.0,365.8 L865.0,351.0 L867.0,335.8 L869.0,320.4 L871.0,304.8 L873.0,289.3 L875.0,273.7 L877.0,258.2 L879.0,243.0 L881.0,228.1 L883.0,213.6 L885.0,199.5 L887.0,186.1 L889.0,173.2 L891.0,161.0 L893.0,149.5 L895.0,138.8 L897.0,128.9 L899.0,119.7 L901.0,111.3 L903.0,103.6 L905.0,96.7 L907.0,90.5 L909.0,85.0 L911.0,80.2 L913.0,76.0 L915.0,72.4 L917.0,69.4 L919.0,67.0 L921.0,65.0 L923.0,63.7 L925.0,62.8 L927.0,62.5 L929.0,62.7 L931.0,63.4 L933.0,64.6 L935.0,66.4 L937.0,68.7 L939.0,71.5 L941.0,74.9 L943.0,78.8 L945.0,83.2 L947.0,88.2 L949.0,93.6 L951.0,99.5 L953.0,105.8 L955.0,112.5 L957.0,119.5 L959.0,126.8 L961.0,134.4 L963.0,142.2 L965.0,150.1 L967.0,158.1 L969.0,166.2 L971.0,174.3 L973.0,182.3 L975.0,190.4 L977.0,198.4 L979.0,206.4 L981.0,214.3 L983.0,222.2 L985.0,230.0 L987.0,237.9 L989.0,245.9 L991.0,253.9 L993.0,262.1 L995.0,270.5 L997.0,279.1 L999.0,288.0 L1001.0,297.2 L1003.0,306.9 L1005.0,316.9 L1007.0,327.5 L1009.0,338.5 L1011.0,350.0 L1013.0,362.0 L1015.0,374.6 L1017.0,387.6 L1019.0,401.1 L1021.0,415.0 L1023.0,429.3 L1025.0,444.0 L1027.0,458.9 L1029.0,474.1 L1031.0,489.5 L1033.0,505.0 L1035.0,520.5 L1037.0,535.9 L1039.0,551.3 L1041.0,566.6 L1043.0,581.7 L1045.0,596.5 L1047.0,611.0 L1049.0,625.1 L1051.0,638.9 L1053.0,652.3 L1055.0,665.3 L1057.0,677.8 L1059.0,689.9 L1061.0,701.5 L1063.0,712.7 L1065.0,723.4 L1067.0,733.6 L1069.0,743.3 L1071.0,752.6 L1073.0,761.5 L1075.0,769.9 L1077.0,777.9 L1079.0,785.5 L1081.0,792.7 L1083.0,799.6 L1085.0,806.0 L1087.0,812.2 L1089.0,818.0 L1091.0,823.6 L1093.0,828.9 L1095.0,833.9 L1097.0,838.7 L1099.0,843.4 L1101.0,847.8 L1103.0,852.2 L1105.0,856.4 L1107.0,860.5 L1109.0,864.6 L1111.0,868.6 L1113.0,872.5 L1115.0,876.5 L1117.0,880.4 L1119.0,884.3 L1121.0,888.2 L1123.0,892.1 L1125.0,896.0 L1127.0,899.9 L1129.0,903.7 L1131.0,907.5 L1133.0,911.2 L1135.0,914.9 L1137.0,918.5 L1139.0,922.1 L1141.0,925.5 L1143.0,928.8 L1145.0,932.0 L1147.0,935.0 L1149.0,938.0 L1151.0,940.7 L1153.0,943.4 L1155.0,945.9 L1157.0,948.2 L1159.0,950.4 L1161.0,952.5 L1163.0,954.4 L1165.0,956.3 L1167.0,958.0 L1169.0,959.6 L1171.0,961.1 L1173.0,962.5 L1175.0,963.9 L1177.0,965.2 L1179.0,966.4 L1181.0,967.6 L1183.0,968.8 L1185.0,969.9 L1187.0,971.0 L1189.0,972.0 L1191.0,973.1 L1193.0,974.1 L1195.0,975.1 L1197.0,976.0 L1199.0,977.0 L1201.0,977.9 L1203.0,978.8 L1205.0,979.7 L1207.0,980.5 L1209.0,981.4 L1211.0,982.2 L1213.0,983.0 L1215.0,983.8 L1217.0,984.5 L1219.0,985.3 L1221.0,986.0 L1223.0,986.7 L1225.0,987.4 L1227.0,988.0 L1229.0,988.7 L1231.0,989.3 L1233.0,990.0 L1235.0,990.6 L1237.0,991.2 L1239.0,991.8 L1241.0,992.3 L1243.0,992.9 L1245.0,993.4 L1247.0,994.0 L1249.0,994.5 L1251.0,995.0 L1253.0,995.5 L1255.0,995.9 L1257.0,996.4 L1259.0,996.8 L1261.0,997.2 L1263.0,997.6 L1265.0,998.0 L1267.0,998.4 L1269.0,998.7 L1271.0,999.0 L1273.0,999.3 L1275.0,999.6 L1277.0,999.8 L1279.0,1000.0 L1281.0,1000.3 L1283.0,1000.4 L1285.0,1000.6 L1287.0,1000.8 L1289.0,1000.9 L1291.0,1001.0 L1293.0,1001.1 L1295.0,1001.2 L1297.0,1001.3 L1297.0,1003.8 L559.0,1003.8 Z" fill="#0218F0" fill-opacity="0.735" stroke="none"/>
<path d="M559.0,1001.6 L561.0,1001.6 L563.0,1001.6 L565.0,1001.5 L567.0,1001.4 L569.0,1001.4 L571.0,1001.3 L573.0,1001.2 L575.0,1001.1 L577.0,1001.0 L579.0,1000.9 L581.0,1000.7 L583.0,1000.6 L585.0,1000.4 L587.0,1000.2 L589.0,999.9 L591.0,999.7 L593.0,999.4 L595.0,999.1 L597.0,998.8 L599.0,998.4 L601.0,998.0 L603.0,997.5 L605.0,997.1 L607.0,996.5 L609.0,996.0 L611.0,995.4 L613.0,994.8 L615.0,994.1 L617.0,993.4 L619.0,992.6 L621.0,991.8 L623.0,990.9 L625.0,990.0 L627.0,989.1 L629.0,988.1 L631.0,987.1 L633.0,986.0 L635.0,984.8 L637.0,983.7 L639.0,982.4 L641.0,981.2 L643.0,979.9 L645.0,978.5 L647.0,977.2 L649.0,975.7 L651.0,974.3 L653.0,972.9 L655.0,971.4 L657.0,969.9 L659.0,968.4 L661.0,966.9 L663.0,965.4 L665.0,963.9 L667.0,962.4 L669.0,960.9 L671.0,959.4 L673.0,958.0 L675.0,956.6 L677.0,955.1 L679.0,953.7 L681.0,952.3 L683.0,950.8 L685.0,949.3 L687.0,947.8 L689.0,946.3 L691.0,944.7 L693.0,943.0 L695.0,941.2 L697.0,939.3 L699.0,937.2 L701.0,935.0 L703.0,932.6 L705.0,930.1 L707.0,927.3 L709.0,924.3 L711.0,921.1 L713.0,917.6 L715.0,913.9 L717.0,909.9 L719.0,905.7 L721.0,901.3 L723.0,896.7 L725.0,891.8 L727.0,886.7 L729.0,881.5 L731.0,876.1 L733.0,870.6 L735.0,864.9 L737.0,859.2 L739.0,853.4 L741.0,847.6 L743.0,841.8 L745.0,836.0 L747.0,830.3 L749.0,824.6 L751.0,818.9 L753.0,813.4 L755.0,807.9 L757.0,802.5 L759.0,797.2 L761.0,792.0 L763.0,786.9 L765.0,781.9 L767.0,776.9 L769.0,772.0 L771.0,767.1 L773.0,762.2 L775.0,757.3 L777.0,752.3 L779.0,747.3 L781.0,742.2 L783.0,736.9 L785.0,731.5 L787.0,726.0 L789.0,720.2 L791.0,714.2 L793.0,708.0 L795.0,701.6 L797.0,694.9 L799.0,688.0 L801.0,680.8 L803.0,673.4 L805.0,665.8 L807.0,657.9 L809.0,649.8 L811.0,641.6 L813.0,633.1 L815.0,624.5 L817.0,615.8 L819.0,606.9 L821.0,598.0 L823.0,589.0 L825.0,579.8 L827.0,570.6 L829.0,561.4 L831.0,552.0 L833.0,542.5 L835.0,532.8 L837.0,523.0 L839.0,513.0 L841.0,502.8 L843.0,492.3 L845.0,481.5 L847.0,470.3 L849.0,458.8 L851.0,446.8 L853.0,434.4 L855.0,421.6 L857.0,408.3 L859.0,394.5 L861.0,380.4 L863.0,365.8 L865.0,351.0 L867.0,335.8 L869.0,320.4 L871.0,304.8 L873.0,289.3 L875.0,273.7 L877.0,258.2 L879.0,243.0 L881.0,228.1 L883.0,213.6 L885.0,199.5 L887.0,186.1 L889.0,173.2 L891.0,161.0 L893.0,149.5 L895.0,138.8 L897.0,128.9 L899.0,119.7 L901.0,111.3 L903.0,103.6 L905.0,96.7 L907.0,90.5 L909.0,85.0 L911.0,80.2 L913.0,76.0 L915.0,72.4 L917.0,69.4 L919.0,67.0 L921.0,65.0 L923.0,63.7 L925.0,62.8 L927.0,62.5 L929.0,62.7 L931.0,63.4 L933.0,64.6 L935.0,66.4 L937.0,68.7 L939.0,71.5 L941.0,74.9 L943.0,78.8 L945.0,83.2 L947.0,88.2 L949.0,93.6 L951.0,99.5 L953.0,105.8 L955.0,112.5 L957.0,119.5 L959.0,126.8 L961.0,134.4 L963.0,142.2 L965.0,150.1 L967.0,158.1 L969.0,166.2 L971.0,174.3 L973.0,182.3 L975.0,190.4 L977.0,198.4 L979.0,206.4 L981.0,214.3 L983.0,222.2 L985.0,230.0 L987.0,237.9 L989.0,245.9 L991.0,253.9 L993.0,262.1 L995.0,270.5 L997.0,279.1 L999.0,288.0 L1001.0,297.2 L1003.0,306.9 L1005.0,316.9 L1007.0,327.5 L1009.0,338.5 L1011.0,350.0 L1013.0,362.0 L1015.0,374.6 L1017.0,387.6 L1019.0,401.1 L1021.0,415.0 L1023.0,429.3 L1025.0,444.0 L1027.0,458.9 L1029.0,474.1 L1031.0,489.5 L1033.0,505.0 L1035.0,520.5 L1037.0,535.9 L1039.0,551.3 L1041.0,566.6 L1043.0,581.7 L1045.0,596.5 L1047.0,611.0 L1049.0,625.1 L1051.0,638.9 L1053.0,652.3 L1055.0,665.3 L1057.0,677.8 L1059.0,689.9 L1061.0,701.5 L1063.0,712.7 L1065.0,723.4 L1067.0,733.6 L1069.0,743.3 L1071.0,752.6 L1073.0,761.5 L1075.0,769.9 L1077.0,777.9 L1079.0,785.5 L1081.0,792.7 L1083.0,799.6 L1085.0,806.0 L1087.0,812.2 L1089.0,818.0 L1091.0,823.6 L1093.0,828.9 L1095.0,833.9 L1097.0,838.7 L1099.0,843.4 L1101.0,847.8 L1103.0,852.2 L1105.0,856.4 L1107.0,860.5 L1109.0,864.6 L1111.0,868.6 L1113.0,872.5 L1115.0,876.5 L1117.0,880.4 L1119.0,884.3 L1121.0,888.2 L1123.0,892.1 L1125.0,896.0 L1127.0,899.9 L1129.0,903.7 L1131.0,907.5 L1133.0,911.2 L1135.0,914.9 L1137.0,918.5 L1139.0,922.1 L1141.0,925.5 L1143.0,928.8 L1145.0,932.0 L1147.0,935.0 L1149.0,938.0 L1151.0,940.7 L1153.0,943.4 L1155.0,945.9 L1157.0,948.2 L1159.0,950.4 L1161.0,952.5 L1163.0,954.4 L1165.0,956.3 L1167.0,958.0 L1169.0,959.6 L1171.0,961.1 L1173.0,962.5 L1175.0,963.9 L1177.0,965.2 L1179.0,966.4 L1181.0,967.6 L1183.0,968.8 L1185.0,969.9 L1187.0,971.0 L1189.0,972.0 L1191.0,973.1 L1193.0,974.1 L1195.0,975.1 L1197.0,976.0 L1199.0,977.0 L1201.0,977.9 L1203.0,978.8 L1205.0,979.7 L1207.0,980.5 L1209.0,981.4 L1211.0,982.2 L1213.0,983.0 L1215.0,983.8 L1217.0,984.5 L1219.0,985.3 L1221.0,986.0 L1223.0,986.7 L1225.0,987.4 L1227.0,988.0 L1229.0,988.7 L1231.0,989.3 L1233.0,990.0 L1235.0,990.6 L1237.0,991.2 L1239.0,991.8 L1241.0,992.3 L1243.0,992.9 L1245.0,993.4 L1247.0,994.0 L1249.0,994.5 L1251.0,995.0 L1253.0,995.5 L1255.0,995.9 L1257.0,996.4 L1259.0,996.8 L1261.0,997.2 L1263.0,997.6 L1265.0,998.0 L1267.0,998.4 L1269.0,998.7 L1271.0,999.0 L1273.0,999.3 L1275.0,999.6 L1277.0,999.8 L1279.0,1000.0 L1281.0,1000.3 L1283.0,1000.4 L1285.0,1000.6 L1287.0,1000.8 L1289.0,1000.9 L1291.0,1001.0 L1293.0,1001.1 L1295.0,1001.2 L1297.0,1001.3" fill="none" stroke="#082CF6" stroke-width="2.9" stroke-linejoin="round"/>
<line x1="927.0" y1="10" x2="927.0" y2="1001.8" stroke="#0C24FF" stroke-width="5.2" stroke-dasharray="20.5 9"/>
<line x1="1196.2" y1="10" x2="1196.2" y2="1001.8" stroke="#2E8128" stroke-width="5.2" stroke-dasharray="20.5 9"/>
<line x1="1230.6" y1="10" x2="1230.6" y2="1001.8" stroke="#EB282C" stroke-width="5.2" stroke-dasharray="20.5 9"/>
</g>
<text class="tick" transform="translate(283.8,56.0) scale(0.858,1)" text-anchor="end">0.8</text>
<text class="tick" transform="translate(283.8,178.6) scale(0.858,1)" text-anchor="end">0.7</text>
<text class="tick" transform="translate(283.8,299.0) scale(0.858,1)" text-anchor="end">0.6</text>
<text class="tick" transform="translate(283.8,419.3) scale(0.858,1)" text-anchor="end">0.5</text>
<text class="tick" transform="translate(283.8,538.7) scale(0.858,1)" text-anchor="end">0.4</text>
<text class="tick" transform="translate(283.8,658.8) scale(0.858,1)" text-anchor="end">0.3</text>
<text class="tick" transform="translate(283.8,779.4) scale(0.858,1)" text-anchor="end">0.2</text>
<text class="tick" transform="translate(283.8,899.3) scale(0.858,1)" text-anchor="end">0.1</text>
<text class="tick" transform="translate(283.8,1018.7) scale(0.858,1)" text-anchor="end">0.0</text>
<text class="tick" transform="translate(379.0,1057.8) scale(0.858,1)" text-anchor="middle">1</text>
<text class="tick" transform="translate(553.5,1057.8) scale(0.858,1)" text-anchor="middle">2</text>
<text class="tick" transform="translate(732.3,1057.8) scale(0.858,1)" text-anchor="middle">3</text>
<text class="tick" transform="translate(904.5,1057.8) scale(0.858,1)" text-anchor="middle">4</text>
<text class="tick" transform="translate(1083.5,1057.8) scale(0.858,1)" text-anchor="middle">5</text>
<text class="tick" transform="translate(1259.2,1057.8) scale(0.858,1)" text-anchor="middle">6</text>
<text class="tick" transform="translate(1434.8,1057.8) scale(0.858,1)" text-anchor="middle">7</text>
<text class="tick" transform="translate(1610.5,1057.8) scale(0.858,1)" text-anchor="middle">8</text>
<text class="axl" transform="translate(973.2,1110.4) scale(0.925,1)" text-anchor="middle">Quality</text>
<text class="axl" transform="translate(210.0,517.5) rotate(-90) scale(0.925,1)" text-anchor="middle">Density</text>
<g filter="url(#sh2)"><path d="M941,221.2 L1190,224.5" stroke="#FA4048" stroke-width="10" stroke-linecap="round" fill="none"/><path d="M1188,209.5 L1217.6,224.8 L1187.6,239.6 Z" fill="#FA4048"/></g>
<g filter="url(#sh2)">
<text class="ann" x="1049.2" y="279.3" textLength="95.5" lengthAdjust="spacing">Quality</text>
<text class="ann" x="1007.5" y="315.8" textLength="179.0" lengthAdjust="spacing">improvement</text>
<text class="ann" x="1003.8" y="351.8" textLength="186.5" lengthAdjust="spacing">from using AI</text>
<text class="ann" x="987.0" y="387.8" textLength="220.0" lengthAdjust="spacing">across 18 tasks</text>
</g>
<g filter="url(#sh)">
<text class="big" x="927" y="712.8" text-anchor="middle" letter-spacing="0">Did not</text>
<text class="big" x="927.3" y="773.2" text-anchor="middle" letter-spacing="1.1">use AI</text>
<text class="big" x="1245.3" y="711.8" text-anchor="middle" style="font-size:56px;stroke-width:7.6px">Used AI</text>
</g>
</svg>
</body></html>
